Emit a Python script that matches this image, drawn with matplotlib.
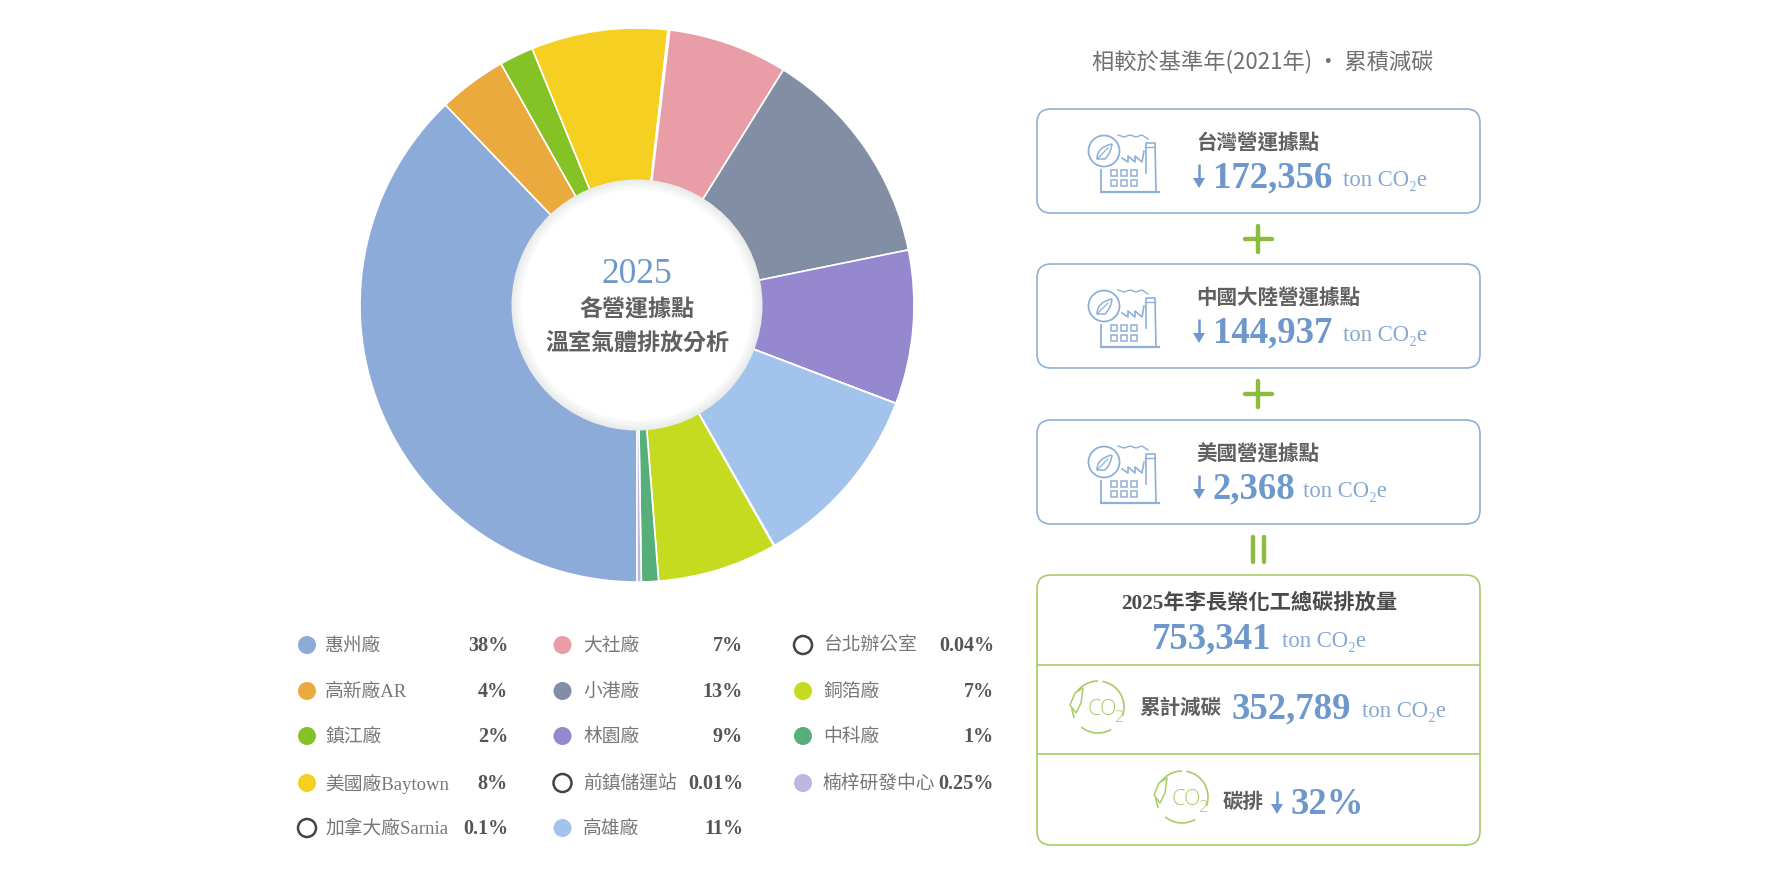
import matplotlib
matplotlib.use('Agg')
import matplotlib.pyplot as plt
from matplotlib.patches import Circle, FancyBboxPatch, Rectangle, Arc, Polygon, PathPatch
from matplotlib.path import Path

W, H = 1771, 870
CJK = ['Noto Sans CJK TC', 'DejaVu Sans']
SERIF = ['Liberation Serif', 'DejaVu Serif']
MIXED = ['Liberation Serif', 'Noto Sans CJK TC']
BLUE = '#6E98CC'
BORDER = '#8FB0D6'
GREEN = '#8DBB3E'
LIME = '#A9CB6A'
GREY = '#6A6A6A'

# 2025 share per site, same order as the legend columns
sites = ['惠州廠', '高新廠AR', '鎮江廠', '美國廠Baytown', '加拿大廠Sarnia',
         '大社廠', '小港廠', '林園廠', '前鎮儲運站', '高雄廠',
         '台北辦公室', '銅箔廠', '中科廠', '楠梓研發中心']
shares = [38, 4, 2, 8, 0.1, 7, 13, 9, 0.01, 11, 0.04, 7, 1, 0.25]
share_labels = ['38%', '4%', '2%', '8%', '0.1%', '7%', '13%', '9%', '0.01%', '11%',
                '0.04%', '7%', '1%', '0.25%']
site_colors = ['#8DABD8', '#EBAA3E', '#85C226', '#F5D023', '#FFFFFF',
               '#E99EA7', '#828EA3', '#9588CF', '#FFFFFF', '#A2C3EB',
               '#FFFFFF', '#C5DB1F', '#56AE7B', '#BDB5E2']

regions = ['台灣營運據點', '中國大陸營運據點', '美國營運據點']
region_cuts = ['172,356', '144,937', '2,368']
total_emission = '753,341'
total_cut = '352,789'
cut_pct = '32%'

fig = plt.figure(figsize=(W / 100, H / 100), dpi=100, facecolor='white')

# donut, radius 277 px around (637, 306)
cx, cy, r = 637, 306, 277
pie_ax = fig.add_axes([(cx - r) / W, 1 - (cy + r) / H, 2 * r / W, 2 * r / H])
pie_ax.pie(shares, colors=site_colors, startangle=270, counterclock=False,
           wedgeprops={'edgecolor': 'white', 'linewidth': 1.2})
pie_ax.set_xlim(-1, 1)
pie_ax.set_ylim(-1, 1)
pie_ax.set_axis_off()
for wedge in pie_ax.patches:
    wedge.set_clip_on(False)
# soft shadow ring and white hole
for k, a in zip([1.0, 0.98, 0.96, 0.94, 0.92], ['#EAECEB', '#EFF0F0', '#F4F5F5', '#F9F9F9', '#FFFFFF']):
    pie_ax.add_patch(Circle((0, 0), k * 125.5 / r, fc=a, ec='none', zorder=5))

# everything else is placed in pixel coordinates, 2 px lower than measured
ax = fig.add_axes([0, 0, 1, 1])
ax.set_xlim(0, W)
ax.set_ylim(H - 2, -2)
ax.set_axis_off()
ax.patch.set_alpha(0)


def cjk(x, y, s, size=15, color=GREY, weight='regular', ha='left'):
    ax.text(x, y, s, family=CJK, fontsize=size, color=color, weight=weight, ha=ha, va='center')


def amount(x, base, num, size=26.5):
    ax.text(x, base, num, family=SERIF, fontsize=size, color=BLUE, weight='bold', ha='left', va='baseline')


def unit(x, base):
    ax.text(x, base - 2, 'ton CO₂e', family=SERIF, fontsize=16.3, color='#86A8D2', ha='left', va='baseline')


def down_arrow(x, y0, y1):
    ax.plot([x, x], [y0, y1 - 6], color=BLUE, lw=1.8, solid_capstyle='butt')
    ax.add_patch(Polygon([(x - 6, y1 - 10), (x + 6, y1 - 10), (x, y1)], fc=BLUE, ec='none'))


def box(x0, y0, x1, y1, color):
    ax.add_patch(FancyBboxPatch((x0 + 14, y0 + 14), x1 - x0 - 28, y1 - y0 - 28,
                                boxstyle='round,pad=14,rounding_size=14',
                                fc='none', ec=color, lw=1.2))


def factory(x, y):
    c = BORDER
    ax.add_patch(Circle((x + 16, y + 18), 15.5, fc='none', ec=c, lw=1.3))
    ax.add_patch(PathPatch(Path([(x + 9, y + 26), (x + 9, y + 14), (x + 24, y + 11), (x + 23, y + 20), (x + 17, y + 26), (x + 9, y + 26)],
                                [Path.MOVETO, Path.CURVE3, Path.CURVE3, Path.CURVE3, Path.CURVE3, Path.LINETO]),
                           fc='none', ec=c, lw=1.1))
    ax.plot([x + 9, x + 20], [y + 26, y + 15], color=c, lw=0.9)
    ax.plot([x + 13, x + 13], [y + 37, y + 59], color=c, lw=1.3)
    ax.plot([x + 13, x + 71], [y + 59, y + 59], color=c, lw=1.6)
    ax.plot([x + 34, x + 40, x + 40, x + 47, x + 47, x + 54, x + 56], [y + 25, y + 29, y + 23, y + 29, y + 23, y + 29, y + 18], color=c, lw=1.2)
    ax.plot([x + 58, x + 58, x + 67, x + 68], [y + 40, y + 10, y + 10, y + 59], color=c, lw=1.2)
    ax.plot([x + 57, x + 67], [y + 14, y + 14], color=c, lw=1.0)
    ax.plot([x + 30, x + 36, x + 42, x + 48, x + 54, x + 60], [y + 2, y + 4, y + 2, y + 4, y + 2, y + 6], color=c, lw=1.0)
    for row in [37, 47]:
        for col in [23, 33, 43]:
            ax.add_patch(Rectangle((x + col, y + row), 6.5, 6, fc='none', ec=c, lw=1.1))


def co2_icon(x, y):
    ax.add_patch(Arc((x, y), 52, 52, theta1=-80, theta2=20, ec=LIME, lw=1.2))
    ax.add_patch(Arc((x, y), 52, 52, theta1=60, theta2=130, ec=LIME, lw=1.2))
    ax.add_patch(Arc((x, y), 52, 52, theta1=155, theta2=270, ec=LIME, lw=1.2))
    ax.add_patch(Polygon([(x - 28, y - 2), (x - 23, y - 14), (x - 15, y - 19), (x - 17, y - 4), (x - 22, y + 6)],
                         closed=True, fc='white', ec=LIME, lw=1.1, joinstyle='round'))
    ax.text(x - 10, y + 2, 'CO', family='Open Sans', fontsize=15.5, color=LIME, va='center', ha='left', weight='light')
    ax.text(x + 16, y + 10, '2', family='Open Sans', fontsize=12, color=LIME, va='center', ha='left', weight='light')


# centre of the donut
ax.text(cx, 273, '2025', family=SERIF, fontsize=25.5, color=BLUE, ha='center', va='center', zorder=6)
cjk(cx, 308, '各營運據點', size=16.6, color='#606060', weight='bold', ha='center')
cjk(cx, 342, '溫室氣體排放分析', size=16.6, color='#606060', weight='bold', ha='center')

# legend
col_marker = [307, 562.5, 803]
col_label = [325, 583, 823]
col_right = [508, 743, 994]
row_y = [644, 690, 735, 782, 827]
per_col = [5, 5, 4]
i = 0
for c, n in enumerate(per_col):
    for j in range(n):
        y = row_y[j]
        if site_colors[i] == '#FFFFFF':
            ax.add_patch(Circle((col_marker[c], y), 9, fc='white', ec='#444444', lw=1.8))
        else:
            ax.add_patch(Circle((col_marker[c], y), 9, fc=site_colors[i], ec='none'))
        ax.text(col_label[c], y, sites[i], family=MIXED, fontsize=13.5, color='#777777', va='center')
        ax.text(col_right[c], y, share_labels[i], family=SERIF, fontsize=14.5, color='#555555', weight='bold', ha='right', va='center')
        i += 1

# right column
cjk(1263, 60, '相較於基準年(2021年) · 累積減碳', size=16, color='#707070', ha='center')

tops = [108, 263, 419]
unit_x = [1343, 1343, 1303]
for top, name, num, ux in zip(tops, regions, region_cuts, unit_x):
    box(1037, top, 1480, top + 104, BORDER)
    factory(1088, top + 24)
    cjk(1196, top + 33, name, size=14.8, color='#606060', weight='bold')
    down_arrow(1199, top + 55, top + 79)
    amount(1213, top + 77, num)
    unit(ux, top + 78)

# plus, plus, equals
for y in [238, 393]:
    ax.plot([1245, 1272], [y, y], color=GREEN, lw=3.2, solid_capstyle='round')
    ax.plot([1258.5, 1258.5], [y - 13, y + 13], color=GREEN, lw=3.2, solid_capstyle='round')
for x in [1253, 1264]:
    ax.plot([x, x], [536, 561], color=GREEN, lw=3.2, solid_capstyle='round')

# totals block
box(1037, 574, 1480, 844, LIME)
ax.plot([1037, 1480], [664, 664], color=LIME, lw=1.2)
ax.plot([1037, 1480], [753, 753], color=LIME, lw=1.2)
ax.text(1259, 602, '2025年李長榮化工總碳排放量', family=MIXED, fontsize=15.3, color='#4A4A4A',
        weight='bold', ha='center', va='center')
amount(1152, 646, total_emission)
unit(1282, 647)

co2_icon(1098, 706)
cjk(1139, 705, '累計減碳', size=14.8, color='#606060', weight='bold')
amount(1232, 716, total_cut)
unit(1362, 717)

co2_icon(1182, 796)
cjk(1223, 800, '碳排', size=14.8, color='#606060', weight='bold')
down_arrow(1277, 790, 813)
amount(1291, 812, cut_pct)

fig.savefig('out.png', dpi=100)
